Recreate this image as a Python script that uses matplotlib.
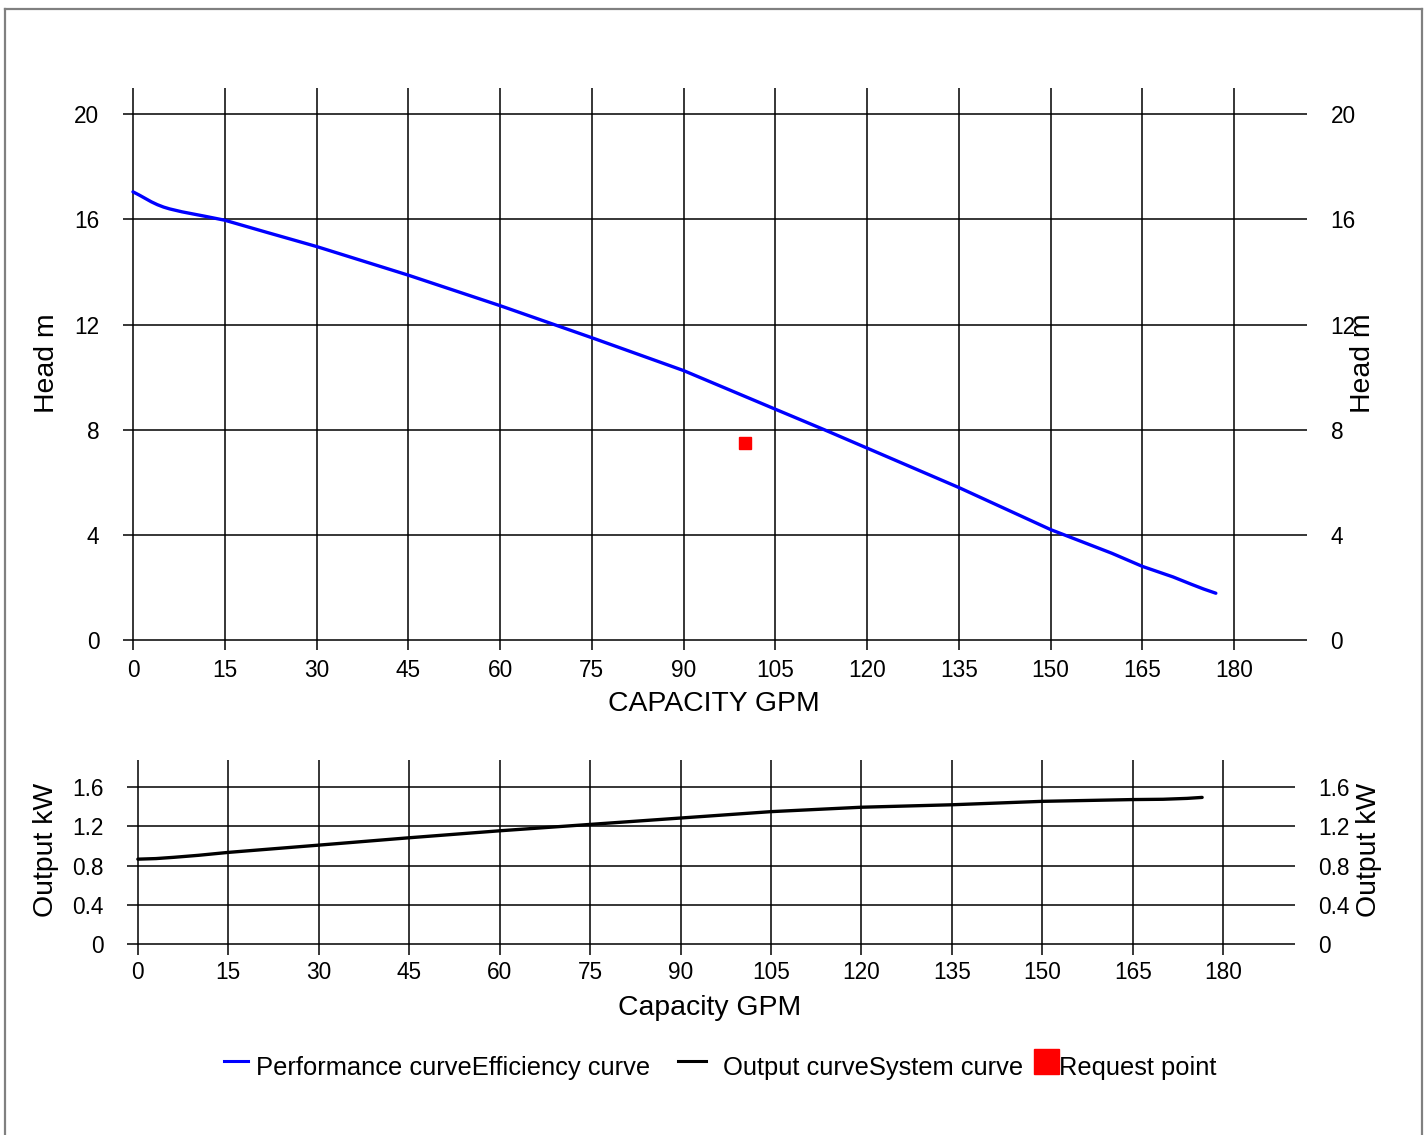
import numpy as np
import matplotlib
matplotlib.use("Agg")
import matplotlib.pyplot as plt
from matplotlib.lines import Line2D

plt.rcParams['font.family'] = ['Liberation Sans', 'DejaVu Sans']

# performance curve (head m vs capacity GPM)
perf_q = [0, 1, 2, 3, 4, 5, 6, 8, 10, 12, 15, 22, 30, 45, 60, 75, 90, 105, 113, 120,
          135, 150, 160, 165, 170, 173, 175, 177]
perf_h = [17.05, 16.93, 16.8, 16.67, 16.56, 16.47, 16.4, 16.29, 16.2, 16.11, 15.97, 15.5,
          14.97, 13.88, 12.72, 11.5, 10.25, 8.78, 8.0, 7.3, 5.8, 4.2, 3.3, 2.8, 2.4,
          2.12, 1.94, 1.78]

# output curve (kW vs capacity GPM)
out_q = [0, 3, 6, 10, 15, 30, 45, 60, 75, 90, 105, 120, 135, 150, 165, 170, 174, 176.5]
out_kw = [0.866, 0.872, 0.885, 0.905, 0.935, 1.009, 1.084, 1.155, 1.22, 1.285, 1.35,
          1.395, 1.42, 1.455, 1.473, 1.476, 1.485, 1.495]

# request point
req_q = [100]
req_h = [7.5]

xticks = [0, 15, 30, 45, 60, 75, 90, 105, 120, 135, 150, 165, 180]
head_ticks = [0, 4, 8, 12, 16, 20]
kw_ticks = [0, 0.4, 0.8, 1.2, 1.6]
kw_labels = ['0', '0.4', '0.8', '1.2', '1.6']

W, H = 1427, 1135
fig = plt.figure(figsize=(W / 100, H / 100), dpi=100)


def fx(px):
    return px / W


def fy(py):
    return 1 - py / H


def box(l, t, r, b):
    return [fx(l), fy(b), fx(r) - fx(l), fy(t) - fy(b)]


tick_fs = 16.3
label_fs = 20.4
leg_fs = 18.4

# ---- top chart
ax1 = fig.add_axes(box(123, 88, 1307, 650))
ax1.plot(perf_q, perf_h, color='#0000ff', lw=2.4, zorder=3, solid_capstyle='round')
ax1.plot(req_q, req_h, ls='none', marker='s', ms=9, color='#ff0000', zorder=4)
ax1.set_xlim(-1.63, 191.9)
ax1.set_ylim(-0.38, 21.0)
ax1.set_xticks(xticks)
ax1.set_yticks(head_ticks)

# ---- bottom chart
ax2 = fig.add_axes(box(127, 760, 1295, 955))
ax2.plot(out_q, out_kw, color='black', lw=2.4, zorder=3, solid_capstyle='round')
ax2.set_xlim(-1.8, 191.9)
ax2.set_ylim(-0.11, 1.876)
ax2.set_xticks(xticks)
ax2.set_yticks(kw_ticks)
ax2.set_yticklabels(kw_labels)

for ax in (ax1, ax2):
    ax.grid(True, color='black', lw=1.1)
    for s in ax.spines.values():
        s.set_visible(False)
    ax.tick_params(axis='both', length=0, labelsize=tick_fs, colors='black')
    ax.tick_params(axis='y', labelright=True, pad=17)
ax1.tick_params(axis='x', pad=6.5)
ax2.tick_params(axis='x', pad=4.5)

# axis titles
fig.text(fx(714), fy(704), 'CAPACITY GPM', fontsize=label_fs, ha='center', va='center')
fig.text(fx(710), fy(1008), 'Capacity GPM', fontsize=label_fs, ha='center', va='center')
fig.text(fx(47), fy(363), 'Head m', fontsize=label_fs, rotation=90, ha='center', va='center')
fig.text(fx(1363), fy(363), 'Head m', fontsize=label_fs, rotation=90, ha='center', va='center')
fig.text(fx(46), fy(850), 'Output kW', fontsize=label_fs, rotation=90, ha='center', va='center')
fig.text(fx(1369), fy(850), 'Output kW', fontsize=label_fs, rotation=90, ha='center', va='center')

# legend, laid out by hand
leg_y = 1068
fig.add_artist(Line2D([fx(224), fx(248)], [fy(1061), fy(1061)], color='#0000ff', lw=2.2))
fig.text(fx(256), fy(leg_y), 'Performance curveEfficiency curve', fontsize=leg_fs, ha='left', va='center')
fig.add_artist(Line2D([fx(678), fx(706)], [fy(1061), fy(1061)], color='black', lw=2.2))
fig.text(fx(723), fy(leg_y), 'Output curveSystem curve', fontsize=leg_fs, ha='left', va='center')
fig.add_artist(Line2D([fx(1045.5)], [fy(1061)], ls='none', marker='s', ms=18, color='#ff0000'))
fig.text(fx(1059), fy(leg_y), 'Request point', fontsize=leg_fs, ha='left', va='center')

# grey frame around the picture
frame = dict(color='#808080', lw=1.6)
fig.add_artist(Line2D([fx(5), fx(5)], [fy(9), 0], **frame))
fig.add_artist(Line2D([fx(5), fx(1422)], [fy(9), fy(9)], **frame))
fig.add_artist(Line2D([fx(1422), fx(1422)], [fy(9), 0], **frame))

fig.savefig('out.png', dpi=100, facecolor='white')
